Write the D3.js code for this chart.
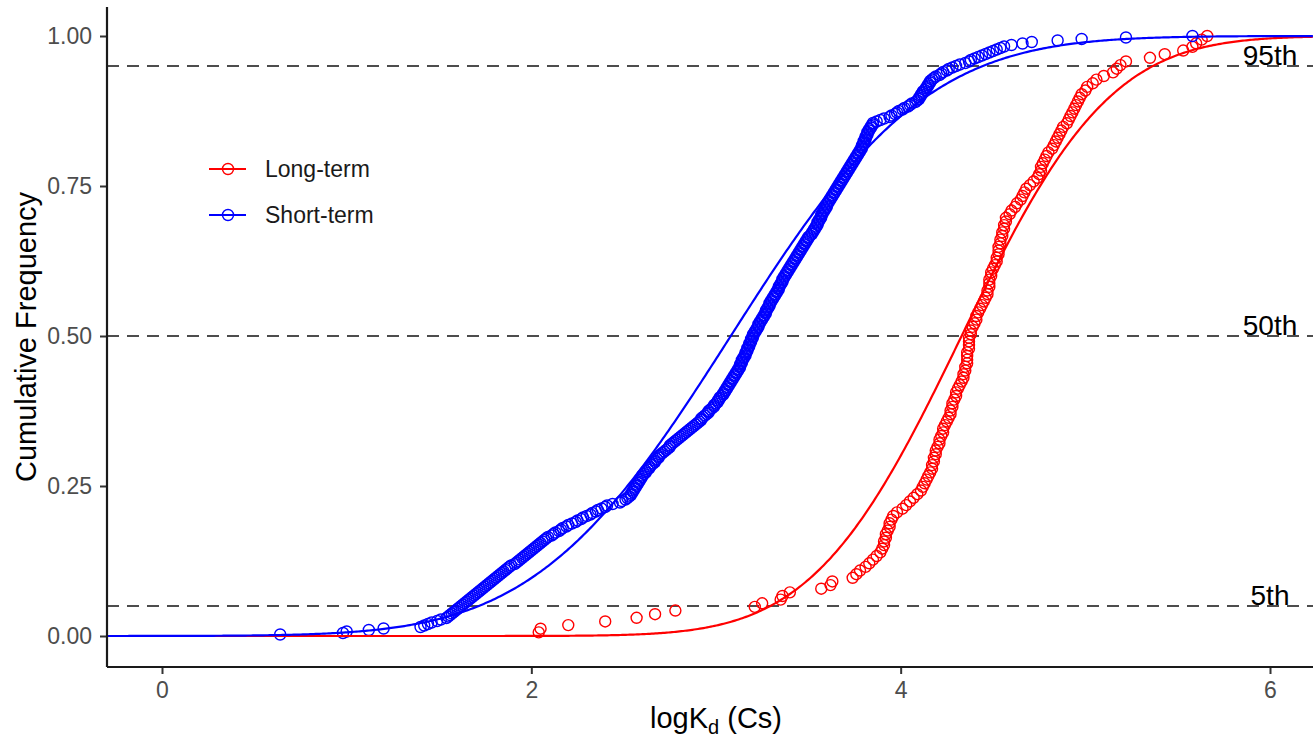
<!DOCTYPE html>
<html>
<head>
<meta charset="utf-8">
<script src="https://cdn.jsdelivr.net/npm/d3@7"></script>
<style>
  html, body { margin: 0; padding: 0; background: #ffffff; }
  svg { display: block; font-family: "Liberation Sans", Arial, sans-serif; }
</style>
</head>
<body>
<script>
// ---------------- DATA ----------------
const seriesNames = ["Long-term", "Short-term"];
const seriesColors = ["#ff0000", "#0000ff"];

const longTermValues = [
  2.04, 2.05, 2.20, 2.40, 2.57, 2.67, 2.78, 3.21, 3.25, 3.35,
  3.36, 3.40, 3.57, 3.62, 3.63, 3.74, 3.76, 3.78, 3.81, 3.83,
  3.85, 3.87, 3.89, 3.90, 3.91, 3.91, 3.92, 3.92, 3.93, 3.94,
  3.94, 3.95, 3.96, 3.98, 4.01, 4.03, 4.05, 4.07, 4.09, 4.11,
  4.12, 4.13, 4.14, 4.15, 4.16, 4.17, 4.17, 4.18, 4.18, 4.19,
  4.19, 4.20, 4.21, 4.21, 4.22, 4.23, 4.23, 4.24, 4.25, 4.26,
  4.27, 4.27, 4.28, 4.28, 4.29, 4.30, 4.30, 4.31, 4.32, 4.33,
  4.34, 4.34, 4.35, 4.35, 4.36, 4.36, 4.36, 4.36, 4.37, 4.37,
  4.37, 4.37, 4.38, 4.38, 4.39, 4.40, 4.41, 4.41, 4.42, 4.43,
  4.44, 4.45, 4.46, 4.47, 4.47, 4.48, 4.48, 4.48, 4.49, 4.49,
  4.50, 4.51, 4.52, 4.52, 4.53, 4.53, 4.53, 4.54, 4.54, 4.55,
  4.55, 4.56, 4.56, 4.57, 4.57, 4.59, 4.60, 4.62, 4.63, 4.65,
  4.66, 4.67, 4.68, 4.70, 4.72, 4.74, 4.75, 4.76, 4.76, 4.77,
  4.78, 4.79, 4.80, 4.82, 4.83, 4.84, 4.85, 4.86, 4.87, 4.88,
  4.90, 4.91, 4.92, 4.93, 4.94, 4.95, 4.96, 4.97, 4.98, 5.00,
  5.01, 5.04, 5.06, 5.10, 5.15, 5.17, 5.19, 5.22, 5.35, 5.43,
  5.53, 5.58, 5.60, 5.63, 5.66
];

const shortTermValues = [
  0.64, 0.98, 1.00, 1.12, 1.20, 1.40, 1.42, 1.44, 1.46, 1.49,
  1.51, 1.54, 1.55, 1.56, 1.57, 1.58, 1.59, 1.60, 1.61, 1.62,
  1.63, 1.64, 1.65, 1.66, 1.67, 1.68, 1.69, 1.70, 1.71, 1.72,
  1.73, 1.74, 1.75, 1.76, 1.77, 1.78, 1.79, 1.80, 1.81, 1.82,
  1.83, 1.84, 1.85, 1.86, 1.87, 1.88, 1.89, 1.91, 1.92, 1.93,
  1.94, 1.95, 1.96, 1.97, 1.98, 1.99, 2.00, 2.01, 2.02, 2.03,
  2.04, 2.05, 2.06, 2.07, 2.08, 2.09, 2.11, 2.12, 2.13, 2.15,
  2.16, 2.17, 2.19, 2.20, 2.22, 2.24, 2.25, 2.27, 2.28, 2.30,
  2.32, 2.33, 2.35, 2.36, 2.38, 2.40, 2.41, 2.44, 2.48, 2.49,
  2.51, 2.52, 2.53, 2.54, 2.54, 2.55, 2.55, 2.56, 2.56, 2.57,
  2.57, 2.58, 2.58, 2.59, 2.59, 2.60, 2.60, 2.61, 2.62, 2.62,
  2.63, 2.64, 2.64, 2.65, 2.66, 2.67, 2.67, 2.68, 2.69, 2.69,
  2.70, 2.71, 2.72, 2.73, 2.74, 2.75, 2.75, 2.76, 2.77, 2.78,
  2.79, 2.80, 2.81, 2.82, 2.83, 2.84, 2.85, 2.86, 2.87, 2.88,
  2.89, 2.90, 2.91, 2.92, 2.92, 2.93, 2.94, 2.95, 2.96, 2.96,
  2.97, 2.98, 2.99, 2.99, 3.00, 3.01, 3.01, 3.02, 3.02, 3.03,
  3.04, 3.04, 3.05, 3.05, 3.06, 3.06, 3.07, 3.07, 3.08, 3.08,
  3.09, 3.09, 3.10, 3.10, 3.11, 3.11, 3.12, 3.12, 3.13, 3.13,
  3.13, 3.14, 3.14, 3.14, 3.15, 3.15, 3.16, 3.16, 3.16, 3.17,
  3.17, 3.17, 3.18, 3.18, 3.18, 3.19, 3.19, 3.19, 3.20, 3.20,
  3.20, 3.21, 3.21, 3.22, 3.22, 3.23, 3.23, 3.23, 3.24, 3.24,
  3.25, 3.25, 3.26, 3.26, 3.27, 3.27, 3.27, 3.28, 3.28, 3.29,
  3.29, 3.29, 3.30, 3.30, 3.31, 3.31, 3.32, 3.32, 3.33, 3.33,
  3.34, 3.34, 3.34, 3.35, 3.35, 3.36, 3.36, 3.36, 3.37, 3.37,
  3.38, 3.38, 3.39, 3.39, 3.40, 3.40, 3.41, 3.41, 3.42, 3.42,
  3.43, 3.43, 3.44, 3.44, 3.45, 3.45, 3.46, 3.46, 3.47, 3.47,
  3.48, 3.48, 3.49, 3.49, 3.50, 3.50, 3.51, 3.52, 3.52, 3.53,
  3.53, 3.54, 3.54, 3.55, 3.55, 3.55, 3.56, 3.56, 3.57, 3.57,
  3.57, 3.58, 3.58, 3.59, 3.59, 3.60, 3.60, 3.60, 3.61, 3.61,
  3.62, 3.62, 3.63, 3.63, 3.64, 3.64, 3.65, 3.65, 3.66, 3.66,
  3.67, 3.67, 3.68, 3.68, 3.69, 3.69, 3.70, 3.70, 3.71, 3.71,
  3.72, 3.72, 3.73, 3.73, 3.74, 3.74, 3.75, 3.75, 3.76, 3.76,
  3.77, 3.77, 3.78, 3.78, 3.79, 3.79, 3.79, 3.80, 3.80, 3.80,
  3.81, 3.81, 3.81, 3.82, 3.82, 3.82, 3.83, 3.83, 3.84, 3.84,
  3.85, 3.85, 3.87, 3.89, 3.91, 3.94, 3.95, 3.97, 3.98, 3.99,
  4.01, 4.02, 4.04, 4.05, 4.06, 4.08, 4.09, 4.10, 4.10, 4.11,
  4.11, 4.12, 4.12, 4.13, 4.14, 4.14, 4.15, 4.15, 4.16, 4.16,
  4.17, 4.18, 4.19, 4.21, 4.22, 4.23, 4.25, 4.26, 4.28, 4.30,
  4.32, 4.35, 4.37, 4.38, 4.40, 4.42, 4.44, 4.46, 4.48, 4.50,
  4.52, 4.54, 4.56, 4.60, 4.66, 4.71, 4.85, 4.98, 5.22, 5.58
];

// Fitted normal distributions (mean, sd) drawn as the smooth curves
const longTermFit = [4.33, 0.63];
const shortTermFit = [3.08, 0.83];

// Reference percentile lines
const percentileValues = [0.05, 0.50, 0.95];
const percentileLabels = ["5th", "50th", "95th"];

// Axis ticks
const xTickValues = [0, 2, 4, 6];
const xTickLabels = ["0", "2", "4", "6"];
const yTickValues = [0, 0.25, 0.5, 0.75, 1.0];
const yTickLabels = ["0.00", "0.25", "0.50", "0.75", "1.00"];

// ---------------- CHART ----------------
const W = 1313, H = 742;
const panel = { left: 107, right: 1313, top: 7, bottom: 667 };

const svg = d3.select("body").append("svg")
  .attr("width", W).attr("height", H);
svg.append("rect").attr("width", W).attr("height", H).attr("fill", "#ffffff");

const x = d3.scaleLinear().domain([0, 6]).range([162, 1270]);
const y = d3.scaleLinear().domain([0, 1]).range([636, 36]);

// normal CDF
function erf(z) {
  const s = z < 0 ? -1 : 1; z = Math.abs(z);
  const t = 1 / (1 + 0.3275911 * z);
  const p = 1 - (((((1.061405429 * t - 1.453152027) * t) + 1.421413741) * t - 0.284496736) * t + 0.254829592) * t * Math.exp(-z * z);
  return s * p;
}
function pnorm(v, m, sd) { return 0.5 * (1 + erf((v - m) / (sd * Math.SQRT2))); }

svg.append("clipPath").attr("id", "clip").append("rect")
  .attr("x", panel.left).attr("y", panel.top)
  .attr("width", panel.right - panel.left).attr("height", panel.bottom - panel.top);

const plot = svg.append("g").attr("clip-path", "url(#clip)");

// percentile dashed lines
plot.selectAll("line.pct").data(percentileValues).enter().append("line")
  .attr("class", "pct")
  .attr("x1", panel.left).attr("x2", panel.right)
  .attr("y1", d => y(d)).attr("y2", d => y(d))
  .attr("stroke", "#4d4d4d").attr("stroke-width", 2.2)
  .attr("stroke-dasharray", "12,8");

// ECDF points
function ecdf(vals) {
  const n = vals.length;
  return vals.map((v, i) => ({ x: v, y: (i + 1) / n }));
}
const seriesData = [longTermValues, shortTermValues];
const fits = [longTermFit, shortTermFit];

const xMin = x.invert(panel.left), xMax = x.invert(panel.right);
const grid = d3.range(xMin, xMax + 0.005, 0.01);
const line = d3.line().x(d => x(d[0])).y(d => y(d[1]));

seriesData.forEach((vals, k) => {
  plot.append("g").selectAll("circle").data(ecdf(vals)).enter().append("circle")
    .attr("cx", d => x(d.x)).attr("cy", d => y(d.y)).attr("r", 5.5)
    .attr("fill", "none").attr("stroke", seriesColors[k]).attr("stroke-width", 1.4);
});
seriesData.forEach((vals, k) => {
  const f = fits[k];
  plot.append("path")
    .datum(grid.map(g => [g, pnorm(g, f[0], f[1])]))
    .attr("d", line).attr("fill", "none")
    .attr("stroke", seriesColors[k]).attr("stroke-width", 2.2);
});

// percentile labels
svg.selectAll("text.pct").data(percentileValues).enter().append("text")
  .attr("class", "pct")
  .attr("x", x(6)).attr("y", d => y(d) - 1)
  .attr("text-anchor", "middle")
  .attr("font-size", 28).attr("fill", "#000000")
  .text((d, i) => percentileLabels[i]);

// axes
const xAxis = d3.axisBottom(x).tickValues(xTickValues)
  .tickFormat((d, i) => xTickLabels[i]).tickSize(7).tickPadding(8);
const gx = svg.append("g").attr("transform", `translate(0,${panel.bottom})`).call(xAxis);
gx.select(".domain").remove();
gx.selectAll(".tick line").attr("stroke", "#333333").attr("stroke-width", 2);
gx.selectAll(".tick text").attr("font-size", 23).attr("fill", "#4d4d4d")
  .attr("font-family", "Liberation Sans, Arial, sans-serif");

const yAxis = d3.axisLeft(y).tickValues(yTickValues)
  .tickFormat((d, i) => yTickLabels[i]).tickSize(7).tickPadding(8);
const gy = svg.append("g").attr("transform", `translate(${panel.left},0)`).call(yAxis);
gy.select(".domain").remove();
gy.selectAll(".tick line").attr("stroke", "#333333").attr("stroke-width", 2);
gy.selectAll(".tick text").attr("font-size", 23).attr("fill", "#4d4d4d")
  .attr("font-family", "Liberation Sans, Arial, sans-serif");

svg.append("line").attr("x1", panel.left).attr("x2", panel.right)
  .attr("y1", panel.bottom).attr("y2", panel.bottom)
  .attr("stroke", "#1a1a1a").attr("stroke-width", 2.2);
svg.append("line").attr("x1", panel.left).attr("x2", panel.left)
  .attr("y1", panel.top).attr("y2", panel.bottom)
  .attr("stroke", "#1a1a1a").attr("stroke-width", 2.2);

// axis titles
const xt = svg.append("text").attr("x", 716).attr("y", 728)
  .attr("text-anchor", "middle").attr("font-size", 29).attr("fill", "#000000");
xt.append("tspan").text("logK");
xt.append("tspan").attr("font-size", 20).attr("dy", 6).text("d");
xt.append("tspan").attr("dy", -6).text(" (Cs)");

svg.append("text")
  .attr("transform", "translate(36,337) rotate(-90)")
  .attr("text-anchor", "middle").attr("font-size", 29).attr("fill", "#000000")
  .text("Cumulative Frequency");

// legend
const legY = [169, 215];
seriesNames.forEach((name, k) => {
  const g = svg.append("g");
  g.append("line").attr("x1", 209).attr("x2", 246)
    .attr("y1", legY[k]).attr("y2", legY[k])
    .attr("stroke", seriesColors[k]).attr("stroke-width", 2.2);
  g.append("circle").attr("cx", 228).attr("cy", legY[k]).attr("r", 5.5)
    .attr("fill", "none").attr("stroke", seriesColors[k]).attr("stroke-width", 1.4);
  g.append("text").attr("x", 265).attr("y", legY[k] + 8)
    .attr("font-size", 23).attr("fill", "#1a1a1a").text(name);
});
</script>
</body>
</html>
